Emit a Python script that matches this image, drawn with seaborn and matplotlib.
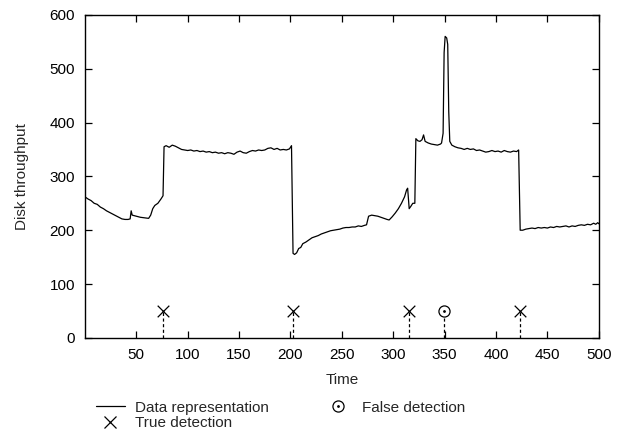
import numpy as np
import pandas as pd
import matplotlib
matplotlib.use("Agg")
import matplotlib.pyplot as plt
import seaborn as sns
from matplotlib.lines import Line2D
from matplotlib.legend_handler import HandlerTuple

# Disk throughput trace
time = [0, 3, 6, 9, 12, 15, 18, 21, 24, 27, 30, 33, 36, 39, 42, 44, 45, 46, 50, 54,
        58, 62, 64, 66, 68, 71, 74, 76, 77,
        79, 82, 85, 88, 91, 94, 97, 100, 103, 106, 109, 112, 115, 118, 121, 124, 127,
        130, 133, 136, 139, 142, 145, 148, 151, 154, 157, 160, 163, 166, 169, 172,
        175, 178, 181, 184, 187, 190, 193, 196, 199, 201, 202.5,
        204, 206, 207, 208, 210, 212, 215, 218, 221, 224, 227, 230, 233, 236, 239,
        242, 245, 248, 251, 254, 257, 260, 263, 266, 269, 272, 274, 276, 279, 282,
        285, 288, 291, 294, 296, 299, 302, 305, 308, 311, 313, 314, 315.5, 317, 319,
        321, 322, 324, 326, 328, 329.5, 331, 334, 337, 340, 343, 346, 347, 348.5,
        349.5, 350.5, 352, 353, 354, 355, 357, 360, 363, 366, 369, 372, 375, 378,
        381, 384, 387, 390, 393, 396, 399, 402, 405, 408, 411, 414, 417, 420, 422,
        423.5, 426, 429, 432, 435, 438, 441, 444, 447, 450, 453, 456, 459, 462, 465,
        468, 471, 474, 477, 480, 483, 486, 489, 492, 495, 497, 499, 500]
throughput = [262, 258, 255, 250, 248, 243, 240, 236, 233, 230, 227, 224, 221, 220, 220, 221, 236, 228, 226, 224,
              223, 222, 228, 240, 246, 250, 258, 264, 355,
              357, 354, 358, 356, 353, 350, 349, 348, 349, 347, 348, 346, 347, 345, 346, 344, 345,
              343, 344, 342, 344, 343, 341, 345, 347, 344, 343, 346, 348, 347, 349, 348,
              349, 352, 353, 350, 352, 349, 350, 349, 351, 357, 157,
              155, 158, 162, 166, 168, 175, 178, 182, 186, 188, 190, 193, 195, 197, 199,
              200, 201, 202, 204, 205, 205, 206, 206, 208, 207, 209, 210, 226, 228, 227,
              226, 224, 222, 220, 219, 225, 232, 240, 250, 262, 275, 278, 240, 244, 250,
              250, 370, 366, 365, 368, 377, 365, 362, 360, 359, 358, 360, 362, 380,
              530, 560, 557, 545, 420, 365, 358, 355, 353, 352, 350, 352, 350, 351,
              348, 349, 347, 345, 346, 348, 346, 347, 345, 348, 346, 345, 347, 346, 349,
              200, 200, 202, 203, 204, 203, 205, 204, 205, 204, 206, 205, 207, 206, 207,
              208, 206, 208, 207, 209, 210, 209, 211, 210, 213, 211, 214, 212]

# Detections
true_det = [76, 202, 315, 423]
false_det = [349]
det_level = 50

sns.set_style("ticks")
plt.rcParams['font.family'] = ['Liberation Sans', 'DejaVu Sans']

fig = plt.figure(figsize=(6.29, 4.36), dpi=100)
ax = fig.add_axes([0.135, 0.225, 0.817, 0.741])

df = pd.DataFrame({'Time': time, 'Disk throughput': throughput})
sns.lineplot(data=df, x='Time', y='Disk throughput', ax=ax, color='black',
             linewidth=0.9, sort=False)

# dashed drop lines under the detection markers
for t in true_det + false_det:
    ax.plot([t, t], [0, det_level], color='black', linestyle=(0, (2.5, 2)), linewidth=0.9)

sns.scatterplot(x=true_det, y=[det_level] * len(true_det), ax=ax, marker='x',
                s=70, color='black', linewidth=0.9, zorder=5)
ax.plot(false_det, [det_level], marker='o', markersize=8, markerfacecolor='white',
        markeredgecolor='black', markeredgewidth=0.9, linestyle='none', zorder=5)
ax.plot(false_det, [det_level], marker='.', markersize=2, color='black',
        linestyle='none', zorder=6)

ax.set_xlim(0, 500)
ax.set_ylim(0, 600)
ax.set_xticks(np.arange(50, 501, 50))
ax.set_yticks(np.arange(0, 601, 100))
ax.tick_params(direction='in', length=5, width=0.9, top=True, right=True,
               labelsize=11, colors='black', pad=7)
for sp in ax.spines.values():
    sp.set_visible(True)
    sp.set_linewidth(1.0)
    sp.set_color('black')
ax.set_xlabel('Time', fontsize=11, labelpad=8)
ax.set_ylabel('Disk throughput', fontsize=11, labelpad=15)

h_line = Line2D([], [], color='black', linewidth=0.9)
h_true = Line2D([], [], marker='x', markersize=8, color='black', linestyle='none',
                markeredgewidth=0.9)
h_false_o = Line2D([], [], marker='o', markersize=8, markerfacecolor='white',
                   markeredgecolor='black', markeredgewidth=0.9, linestyle='none')
h_false_d = Line2D([], [], marker='.', markersize=2, color='black', linestyle='none')
fig.legend([h_line, h_true, (h_false_o, h_false_d)],
           ['Data representation', 'True detection', 'False detection'],
           handler_map={tuple: HandlerTuple(ndivide=1, pad=0)},
           ncol=2, loc='upper left', bbox_to_anchor=(0.1526, 0.081),
           frameon=False, fontsize=11, handlelength=1.9, handletextpad=0.65,
           columnspacing=3.55, labelspacing=0.08, borderaxespad=0, borderpad=0)

fig.savefig('out.png', dpi=100)
